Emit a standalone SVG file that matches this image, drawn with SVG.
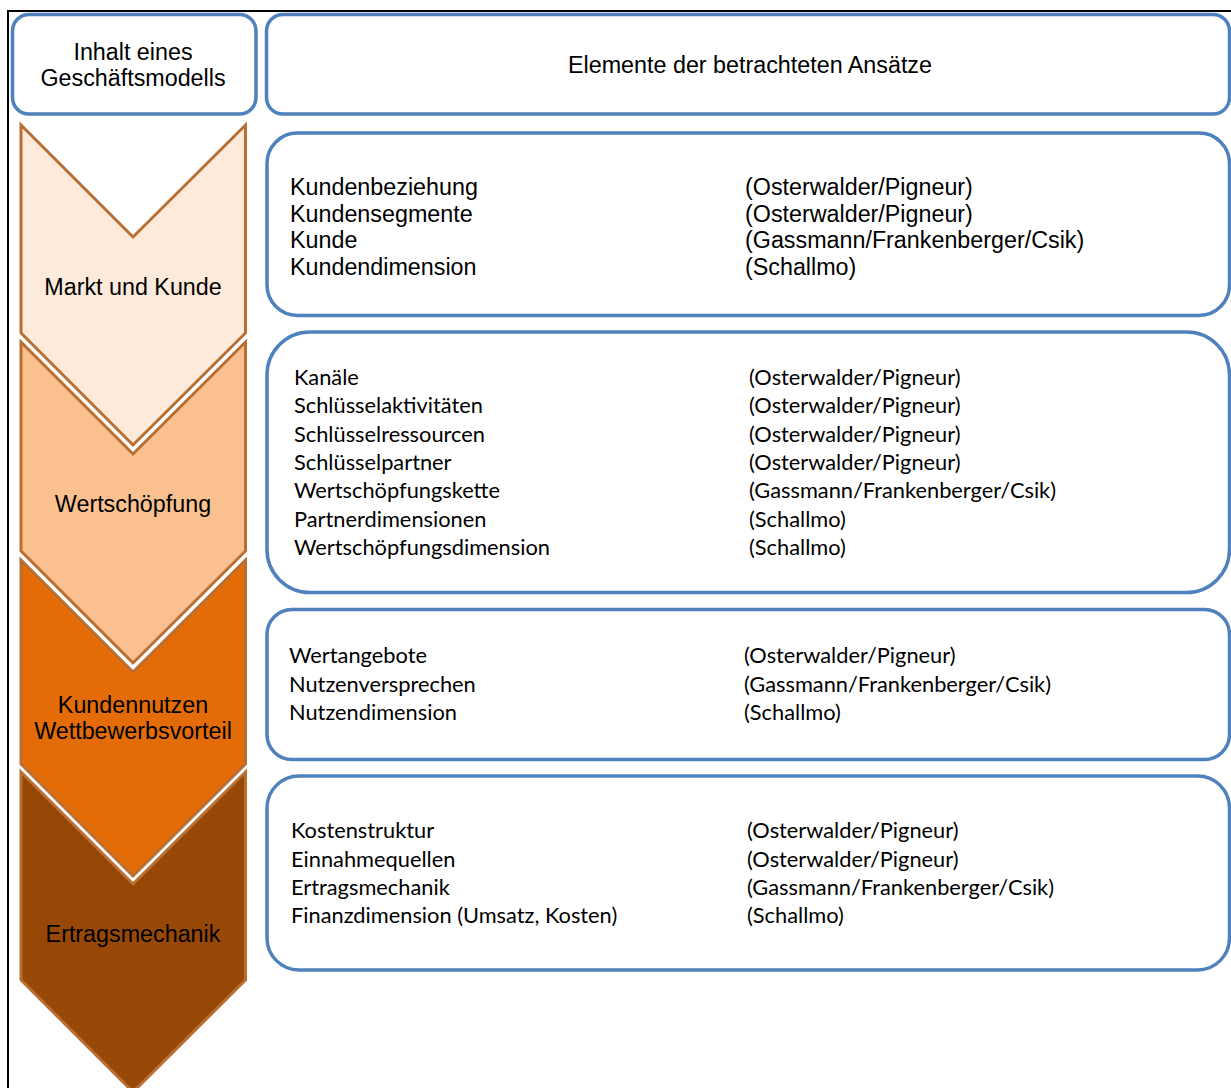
<svg xmlns="http://www.w3.org/2000/svg" width="1231" height="1088" viewBox="0 0 1231 1088">
<style>
.frame{fill:none;stroke:#000;stroke-width:2}
.box{fill:#fff;stroke:#4F81BD;stroke-width:3.5}
.chev{stroke:#B96E32;stroke-width:3;stroke-linejoin:miter}
.a{font-family:"Liberation Sans",Arial,sans-serif;font-size:23.3px;fill:#000}
.c{font-family:Lato,"Noto Sans",sans-serif;font-size:21.8px;fill:#000}
.mid{text-anchor:middle}
</style>
<rect x="0" y="0" width="1231" height="1088" fill="#fff"/>
<path class="frame" d="M8,1092 V11 H1235"/>

<g id="header-left">
<rect class="box" x="12.5" y="14.5" width="243.5" height="99.5" rx="16.6"/>
<text class="a mid" x="133" y="60">Inhalt eines</text>
<text class="a mid" x="133" y="86">Geschäftsmodells</text>
</g>
<g id="header-right">
<rect class="box" x="266.5" y="14.5" width="963" height="99.5" rx="16.6"/>
<text class="a mid" x="750" y="73">Elemente der betrachteten Ansätze</text>
</g>

<g id="chevron-markt">
<path class="chev" fill="#FDEADA" d="M21,125 L133,237 L245.5,125 V333 L133,445 L21,333 Z"/>
<text class="a mid" x="133" y="295">Markt und Kunde</text>
</g>
<g id="chevron-wert">
<path class="chev" fill="#FAC090" d="M21,342 L133,454 L245.5,342 V551 L133,663 L21,551 Z"/>
<text class="a mid" x="133" y="512">Wertschöpfung</text>
</g>
<g id="chevron-nutzen">
<path class="chev" fill="#E36C09" d="M21,560 L133,672 L245.5,560 V764 L133,876 L21,764 Z"/>
<text class="a mid" x="133" y="713">Kundennutzen</text>
<text class="a mid" x="133" y="739">Wettbewerbsvorteil</text>
</g>
<g id="chevron-ertrag">
<path class="chev" fill="#974806" d="M21,772 L133,884 L245.5,772 V980 L133,1092 L21,980 Z"/>
<text class="a mid" x="133" y="942">Ertragsmechanik</text>
</g>

<g id="box-kunde">
<rect class="box" x="267" y="133" width="962.5" height="182.5" rx="30.4"/>
<text class="a" x="290" y="195">Kundenbeziehung</text>
<text class="a" x="290" y="221.5">Kundensegmente</text>
<text class="a" x="290" y="248">Kunde</text>
<text class="a" x="290" y="274.5">Kundendimension</text>
<text class="a" x="745" y="195">(Osterwalder/Pigneur)</text>
<text class="a" x="745" y="221.5">(Osterwalder/Pigneur)</text>
<text class="a" x="745" y="248">(Gassmann/Frankenberger/Csik)</text>
<text class="a" x="745" y="274.5">(Schallmo)</text>
</g>

<g id="box-wertschoepfung">
<rect class="box" x="267" y="332" width="962.5" height="260.5" rx="43"/>
<text class="c" x="294" y="385">Kanäle</text>
<text class="c" x="294" y="413.3">Schlüsselaktivitäten</text>
<text class="c" x="294" y="441.7">Schlüsselressourcen</text>
<text class="c" x="294" y="470">Schlüsselpartner</text>
<text class="c" x="294" y="498.3">Wertschöpfungskette</text>
<text class="c" x="294" y="526.7">Partnerdimensionen</text>
<text class="c" x="294" y="555">Wertschöpfungsdimension</text>
<text class="c" x="749" y="385">(Osterwalder/Pigneur)</text>
<text class="c" x="749" y="413.3">(Osterwalder/Pigneur)</text>
<text class="c" x="749" y="441.7">(Osterwalder/Pigneur)</text>
<text class="c" x="749" y="470">(Osterwalder/Pigneur)</text>
<text class="c" x="749" y="498.3">(Gassmann/Frankenberger/Csik)</text>
<text class="c" x="749" y="526.7">(Schallmo)</text>
<text class="c" x="749" y="555">(Schallmo)</text>
</g>

<g id="box-nutzen">
<rect class="box" x="267" y="609.5" width="962.5" height="150" rx="25"/>
<text class="c" x="289" y="663">Wertangebote</text>
<text class="c" x="289" y="691.5">Nutzenversprechen</text>
<text class="c" x="289" y="720">Nutzendimension</text>
<text class="c" x="744" y="663">(Osterwalder/Pigneur)</text>
<text class="c" x="744" y="691.5">(Gassmann/Frankenberger/Csik)</text>
<text class="c" x="744" y="720">(Schallmo)</text>
</g>

<g id="box-ertrag">
<rect class="box" x="267" y="776" width="962.5" height="194" rx="32"/>
<text class="c" x="291" y="838">Kostenstruktur</text>
<text class="c" x="291" y="866.5">Einnahmequellen</text>
<text class="c" x="291" y="895">Ertragsmechanik</text>
<text class="c" x="291" y="923">Finanzdimension (Umsatz, Kosten)</text>
<text class="c" x="747" y="838">(Osterwalder/Pigneur)</text>
<text class="c" x="747" y="866.5">(Osterwalder/Pigneur)</text>
<text class="c" x="747" y="895">(Gassmann/Frankenberger/Csik)</text>
<text class="c" x="747" y="923">(Schallmo)</text>
</g>

<g id="connectors"></g>
</svg>
